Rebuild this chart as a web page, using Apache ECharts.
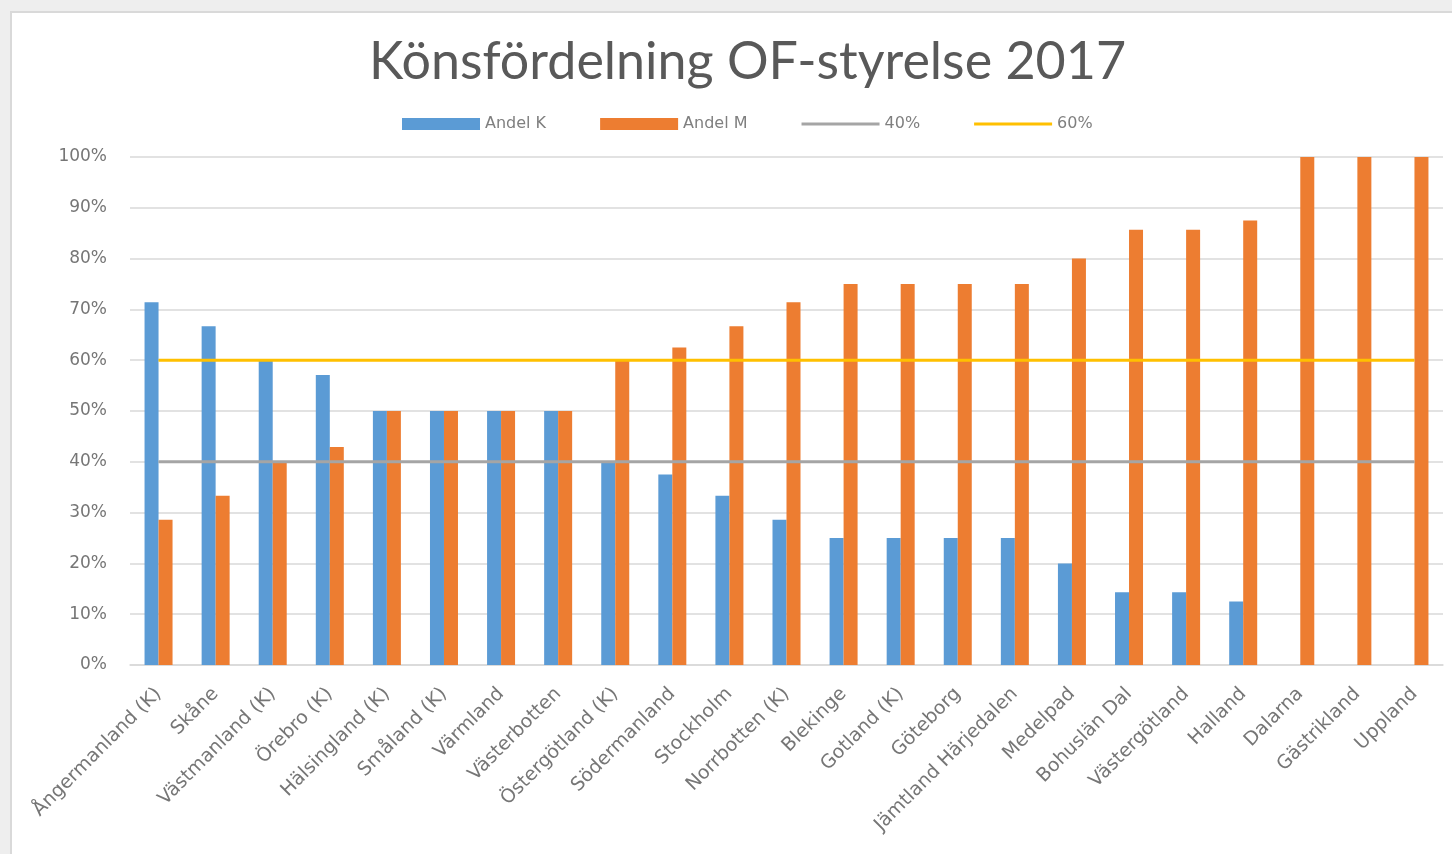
<!DOCTYPE html>
<html>
<head>
<meta charset="utf-8">
<script src="https://cdn.jsdelivr.net/npm/echarts@6/dist/echarts.min.js"></script>
<style>
  html, body { margin: 0; padding: 0; background: #eeeeee; width: 1452px; height: 854px; overflow: hidden; }
  #frame { position: absolute; left: 10px; top: 11px; width: 1442px; height: 843px; background: #d9d9d9; }
  #chart { position: absolute; left: 12px; top: 13px; width: 1440px; height: 841px; background: #ffffff; }
</style>
</head>
<body>
<div id="frame"></div>
<div id="chart"></div>
<script>
const regions = [
  "Ångermanland (K)", "Skåne", "Västmanland (K)", "Örebro (K)", "Hälsingland (K)",
  "Småland (K)", "Värmland", "Västerbotten", "Östergötland (K)", "Södermanland",
  "Stockholm", "Norrbotten (K)", "Blekinge", "Gotland (K)", "Göteborg",
  "Jämtland Härjedalen", "Medelpad", "Bohuslän Dal", "Västergötland", "Halland",
  "Dalarna", "Gästrikland", "Uppland"
];
const andelK = [71.4, 66.7, 60, 57.1, 50, 50, 50, 50, 40, 37.5, 33.3, 28.6, 25, 25, 25, 25, 20, 14.3, 14.3, 12.5, 0, 0, 0];
const andelM = [28.6, 33.3, 40, 42.9, 50, 50, 50, 50, 60, 62.5, 66.7, 71.4, 75, 75, 75, 75, 80, 85.7, 85.7, 87.5, 100, 100, 100];
const limit40 = regions.map(() => 40);
const limit60 = regions.map(() => 60);

const textColor = "#595959";
const labelColor = "#767676";
const titleFont = "Lato, 'Open Sans', sans-serif";
const labelFont = "'DejaVu Sans', sans-serif";
const lineIcon = "path://M0,0 H80 V3 H0 Z";

const chart = echarts.init(document.getElementById("chart"));
chart.setOption({
  animation: false,
  title: {
    text: "Könsfördelning OF-styrelse 2017",
    left: 352,
    top: 18,
    textStyle: { fontFamily: titleFont, fontSize: 52, fontWeight: "normal", color: textColor }
  },
  legend: {
    top: 98,
    left: 385,
    itemWidth: 78,
    itemHeight: 12,
    itemGap: 54,
    textStyle: { fontFamily: labelFont, fontSize: 16, color: "#7f7f7f" },
    data: [
      { name: "Andel K", icon: "rect" },
      { name: "Andel M", icon: "rect" },
      { name: "40%", icon: lineIcon },
      { name: "60%", icon: lineIcon }
    ]
  },
  grid: { left: 118, right: 9, top: 144, bottom: 189 },
  xAxis: {
    type: "category",
    data: regions,
    axisTick: { show: false },
    axisLine: { lineStyle: { color: "#d9d9d9", width: 1.5 } },
    axisLabel: {
      interval: 0,
      rotate: 45,
      margin: 26,
      fontFamily: labelFont,
      fontSize: 19,
      color: labelColor
    }
  },
  yAxis: {
    type: "value",
    min: 0,
    max: 100,
    interval: 10,
    axisLine: { show: false },
    axisTick: { show: false },
    splitLine: { lineStyle: { color: "#d9d9d9", width: 1.5 } },
    axisLabel: {
      margin: 23,
      fontFamily: labelFont,
      fontSize: 17,
      color: labelColor,
      formatter: v => v + "%"
    }
  },
  series: [
    {
      name: "Andel K",
      type: "bar",
      data: andelK,
      barWidth: 14,
      barGap: "0%",
      itemStyle: { color: "#5b9bd5" }
    },
    {
      name: "Andel M",
      type: "bar",
      data: andelM,
      barWidth: 14,
      barGap: "0%",
      itemStyle: { color: "#ed7d31" }
    },
    {
      name: "40%",
      type: "line",
      data: limit40,
      symbol: "none",
      itemStyle: { color: "#a5a5a5" },
      lineStyle: { color: "#a5a5a5", width: 3 }
    },
    {
      name: "60%",
      type: "line",
      data: limit60,
      symbol: "none",
      itemStyle: { color: "#ffc000" },
      lineStyle: { color: "#ffc000", width: 3 }
    }
  ]
});
window.addEventListener("resize", chart.resize);
</script>
</body>
</html>
